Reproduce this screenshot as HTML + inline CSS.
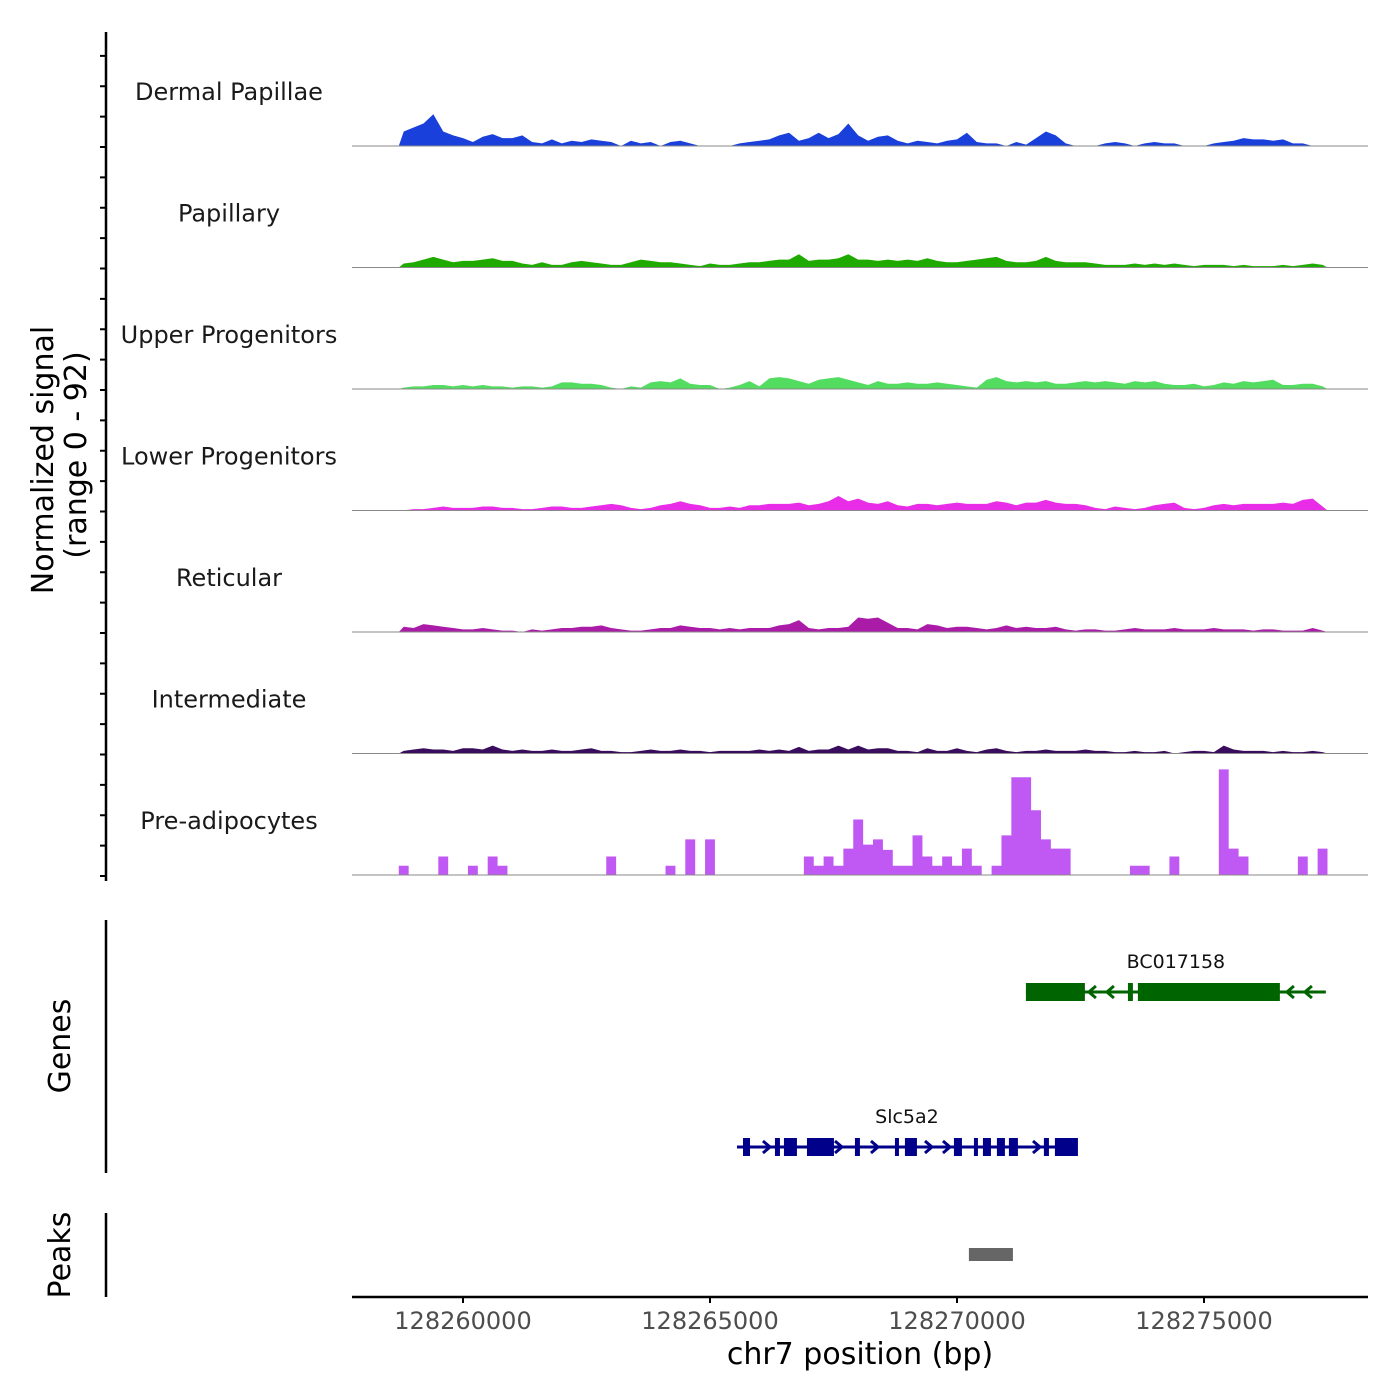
<!DOCTYPE html>
<html><head><meta charset="utf-8"><style>
html,body{margin:0;padding:0;background:#fff;}
svg{display:block;font-family:"DejaVu Sans","Liberation Sans",sans-serif;}
</style></head><body>
<svg id="chart" width="1400" height="1400" viewBox="0 0 1400 1400">
<rect width="1400" height="1400" fill="#fff"/>
<g id="tracks"></g>
<g id="genes"></g>
<g id="axes"></g>
</svg>
<script>
// ---- data ----
const binStart = 128258700;
const binSize = 200;
const trackNames = ["Dermal Papillae","Papillary","Upper Progenitors","Lower Progenitors","Reticular","Intermediate","Pre-adipocytes"];
const trackColors = ["#1a40dc","#1faa00","#52dc60","#e82ce8","#aa1ca8","#3a0c5e","#c058f4"];
const dermalPapillae = [11,14,17,24,11,8,6,3,7,9,6,6,8,3,2,5,2,4,3,5,4,3,0,4,2,3,0,3,4,2,0,0,0,0,2,3,4,5,8,10,4,6,10,6,9,17,8,4,7,8,4,2,4,3,2,4,5,10,3,2,2,0,3,1,6,11,8,2,0,0,0,2,3,2,0,2,3,2,2,0,0,0,2,3,4,6,5,5,4,5,2,2,0,0];
const papillary = [3,4,6,8,6,4,5,5,6,7,5,5,3,2,4,2,2,4,5,4,3,2,2,4,6,5,4,4,3,2,1,3,2,2,3,4,4,5,6,6,10,5,6,6,7,10,6,6,5,6,5,6,5,7,5,4,4,5,6,7,8,5,4,4,5,8,5,4,4,4,3,2,2,2,3,2,3,2,3,2,1,2,2,2,1,2,1,1,1,2,1,2,3,2];
const upperProgenitors = [1,2,2,3,3,2,3,2,3,2,2,1,2,2,1,2,5,5,4,4,3,1,0,2,1,5,6,5,8,4,3,3,0,1,3,6,2,8,9,8,6,4,7,8,9,7,5,3,6,4,4,5,4,4,5,4,3,2,1,7,9,6,5,6,5,6,4,4,5,6,5,6,5,4,6,5,6,4,3,3,4,2,3,5,4,6,5,6,7,3,3,4,4,2];
const lowerProgenitors = [0,1,1,2,3,2,2,2,3,3,2,2,1,1,2,3,3,2,2,3,4,5,4,2,1,2,4,5,7,5,4,2,2,3,2,4,4,5,5,5,6,4,5,7,11,7,9,6,5,7,4,3,5,5,4,5,6,5,5,5,7,6,4,6,6,8,6,5,5,4,2,1,3,2,1,2,4,5,6,2,1,2,4,5,4,5,5,5,5,6,5,8,9,3];
const reticular = [4,3,6,5,4,3,2,2,3,2,1,1,0,2,1,2,3,3,4,4,5,3,2,1,1,2,3,3,5,4,3,3,2,3,2,3,3,3,5,6,9,3,2,3,3,4,11,10,11,7,3,3,2,6,5,3,4,4,3,2,3,5,3,4,3,3,4,2,1,2,2,1,1,2,3,2,2,2,3,2,2,2,3,2,2,2,1,2,2,1,1,1,3,1];
const intermediate = [2,3,4,3,3,2,4,4,3,6,3,2,3,2,2,3,2,2,3,4,2,2,1,1,2,3,2,2,3,2,2,1,2,2,2,2,3,2,3,2,5,2,3,3,6,3,6,3,4,4,2,2,1,4,2,2,4,2,1,3,4,2,1,2,2,3,2,2,2,3,2,2,1,1,2,1,1,2,0,1,2,2,1,6,3,2,2,2,1,2,1,1,2,1];
const preAdipocytes = [7,0,0,0,14,0,0,7,0,14,7,0,0,0,0,0,0,0,0,0,0,14,0,0,0,0,0,7,0,27,0,27,0,0,0,0,0,0,0,0,0,14,7,14,7,20,42,23,27,19,7,7,30,14,7,14,7,20,7,0,7,30,74,74,49,27,20,20,0,0,0,0,0,0,7,7,0,0,14,0,0,0,0,80,20,14,0,0,0,0,0,14,0,20];
const trackValues = [dermalPapillae,papillary,upperProgenitors,lowerProgenitors,reticular,intermediate,preAdipocytes];
const xTicks = [128260000,128265000,128270000,128275000];
const xTickLabels = ["128260000","128265000","128270000","128275000"];
const gene1Name = "BC017158";
const gene1Span = [128271395,128277467];
const gene1Exons = [[128271395,128272589],[128273460,128273561],[128273662,128276536]];
const gene2Name = "Slc5a2";
const gene2Span = [128265546,128272428];
const gene2Exons = [[128265668,128265810],[128266315,128266416],[128266497,128266760],[128266963,128267509],[128267934,128268035],[128268744,128268825],[128268946,128269189],[128269938,128270100],[128270343,128270424],[128270525,128270687],[128270808,128270970],[128271051,128271233],[128271759,128271861],[128271982,128272448]];
const peakRegions = [[128270241,128271132]];
const yMax = 92;

// ---- scales ----
const NS='http://www.w3.org/2000/svg';
function X(bp){return 463 + (bp-128260000)*0.04940;}
const trackH = 121.5;
function baseY(i){return 146 + i*trackH;}
function Y(i,v){return baseY(i) - v/yMax*trackH;}
function mk(tag,attrs,parent){const e=document.createElementNS(NS,tag);for(const k in attrs)e.setAttribute(k,attrs[k]);parent.appendChild(e);return e;}

const tg=document.getElementById('tracks');
trackNames.forEach((name,i)=>{
  const vals=trackValues[i];
  let pts=[];
  const x0=X(binStart);
  pts.push(x0+','+baseY(i));
  if(i===6){
    vals.forEach((v,j)=>{const a=X(binStart+j*binSize),b=X(binStart+(j+1)*binSize);pts.push(a+','+Y(i,v));pts.push(b+','+Y(i,v));});
  } else {
    vals.forEach((v,j)=>{const c=X(binStart+(j+0.5)*binSize);pts.push(c+','+Y(i,v));});
  }
  pts.push(X(binStart+vals.length*binSize)+','+baseY(i));
  const area=mk('polygon',{points:pts.join(' '),fill:trackColors[i]},tg);
  
  
  const bl=mk('line',{x1:352,x2:1368,y1:baseY(i),y2:baseY(i),stroke:'#8a8a8a','stroke-width':1},tg);
  
  
  const lab=mk('text',{x:229,y:baseY(i)-46,'text-anchor':'middle','font-size':24,fill:'#1a1a1a'},tg);
  lab.textContent=name;
  
  
});

// ---- genes ----
const gg=document.getElementById('genes');
function drawGene(name,span,exons,y,color,dir){
  const ln=mk('line',{x1:X(span[0]),x2:X(span[1]),y1:y,y2:y,stroke:color,'stroke-width':3},gg);
  
  
  for(let x=X(span[0])+12;x<X(span[1])-4;x+=18){
    const inEx=exons.some(e=>x>X(e[0])-5&&x<X(e[1])+5);
    if(inEx)continue;
    const d=dir>0?`M${x-4},${y-6} L${x+3},${y} L${x-4},${y+6}`:`M${x+4},${y-6} L${x-3},${y} L${x+4},${y+6}`;
    const ar=mk('path',{d:d,stroke:color,'stroke-width':3,fill:'none'},gg);
    
    
  }
  exons.forEach(e=>{
    const r=mk('rect',{x:X(e[0]),y:y-9,width:Math.max(3,X(e[1])-X(e[0])),height:18,fill:color},gg);
    
    
  });
  const t=mk('text',{x:(X(span[0])+X(span[1]))/2,y:y-24,'text-anchor':'middle','font-size':19,fill:'#111'},gg);
  t.textContent=name;
  
  
}
drawGene(gene1Name,gene1Span,gene1Exons,992,'#006400',-1);
drawGene(gene2Name,gene2Span,gene2Exons,1147,'#00008b',1);
peakRegions.forEach(p=>{
  const r=mk('rect',{x:X(p[0]),y:1248,width:X(p[1])-X(p[0]),height:13,fill:'#666'},gg);
  
  
});

// ---- axes ----
const ag=document.getElementById('axes');
function L(x1,y1,x2,y2,w,name){const l=mk('line',{x1,y1,x2,y2,stroke:'#000','stroke-width':w},ag);}
L(106,32,106,881,2.5,'signal-y-axis-line');
for(let k=0;k<28;k++){const y=876-k*30.375;L(100,y,106,y,2,'y-tick');}
L(106,920,106,1173,2.5,'genes-axis-line');
L(106,1213,106,1297,2.5,'peaks-axis-line');
L(352,1297,1368,1297,2.5,'x-axis-line');
xTicks.forEach((t,i)=>{
  L(X(t),1297,X(t),1303,2,'x-tick');
  const tx=mk('text',{x:X(t),y:1329,'text-anchor':'middle','font-size':24,fill:'#4d4d4d'},ag);
  tx.textContent=xTickLabels[i];
  
  
});
function T(txt,x,y,size,rot,name){const t=mk('text',{x,y,'text-anchor':'middle','font-size':size,fill:'#000',transform:rot?`rotate(-90 ${x} ${y})`:''},ag);t.textContent=txt;}
T('chr7 position (bp)',860,1364,30,false,'x-axis-title');
T('Normalized signal',53,460,30,true,'y-axis-title');
T('(range 0 - 92)',86,455,30,true,'y-axis-subtitle');
T('Genes',70,1046,30,true,'genes-axis-title');
T('Peaks',70,1255,30,true,'peaks-axis-title');
</script>
</body></html>
